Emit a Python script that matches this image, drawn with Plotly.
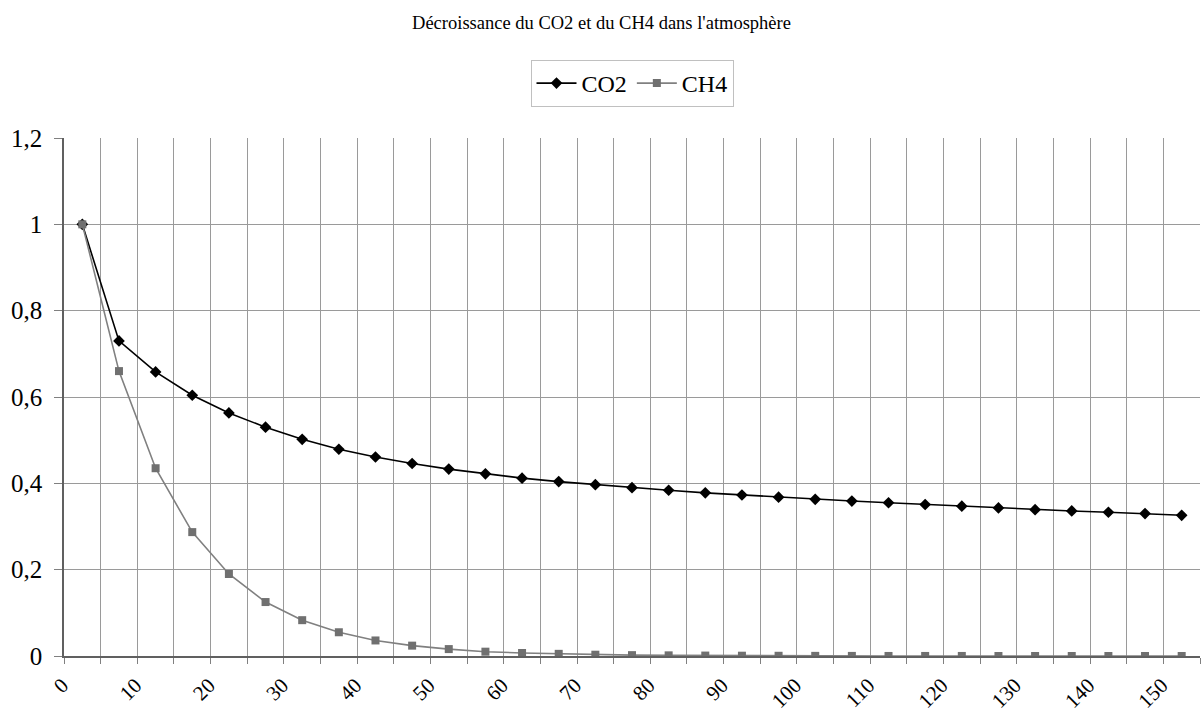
import plotly.graph_objects as go

years = list(range(0, 155, 5))
co2 = [1.0, 0.73, 0.658, 0.604, 0.563, 0.53, 0.502, 0.479, 0.461, 0.446, 0.433,
       0.422, 0.412, 0.404, 0.397, 0.39, 0.384, 0.378, 0.373, 0.368, 0.363,
       0.359, 0.355, 0.351, 0.347, 0.343, 0.339, 0.336, 0.333, 0.33, 0.326]
ch4 = [1.0, 0.66, 0.435, 0.287, 0.19, 0.125, 0.083, 0.055, 0.036, 0.024, 0.016,
       0.010, 0.007, 0.005, 0.003, 0.002, 0.0015, 0.001, 0.0007, 0.0005, 0.0003,
       0.0002, 0.0001, 0.0001, 0.0001, 0.0, 0.0, 0.0, 0.0, 0.0, 0.0]
x_labels = list(range(0, 160, 10))
y_ticks = [0, 0.2, 0.4, 0.6, 0.8, 1.0, 1.2]

font_family = "Liberation Serif, Times New Roman, serif"
grid_color = "#9a9a9a"

fig = go.Figure()
fig.add_trace(go.Scatter(
    x=years, y=co2, name="CO2", mode="lines+markers",
    line=dict(color="#000000", width=1.6),
    marker=dict(symbol="diamond", size=9, color="#000000"),
))
fig.add_trace(go.Scatter(
    x=years, y=ch4, name="CH4", mode="lines+markers",
    line=dict(color="#808080", width=1.6),
    marker=dict(symbol="square", size=8, color="#707070"),
))

boundaries = [v - 2.5 for v in years] + [years[-1] + 2.5]

fig.update_layout(
    width=1203, height=712,
    paper_bgcolor="white", plot_bgcolor="white",
    separators=", ",
    margin=dict(l=64, r=3, t=138, b=56, autoexpand=False),
    font=dict(family=font_family, size=20, color="#000000"),
    title=dict(text="Décroissance du CO2 et du CH4 dans l'atmosphère",
               x=0.5, xanchor="center", yref="container", y=0.969, yanchor="middle",
               font=dict(family=font_family, size=18.5, color="#000000")),
    legend=dict(orientation="h", x=0.5, xanchor="center",
                yref="container", y=1 - 60 / 712, yanchor="top",
                bordercolor="#c0c0c0", borderwidth=1, bgcolor="white",
                font=dict(family=font_family, size=24),
                itemwidth=40, tracegroupgap=0),
    showlegend=True,
)
fig.update_xaxes(
    range=[-2.5, 152.5], tickmode="array", tickvals=x_labels,
    ticktext=[str(v) for v in x_labels], tickangle=-45,
    showgrid=False, ticks="", zeroline=False, automargin=False,
    showline=True, linecolor="#606060", linewidth=1.5,
    ticklabelshift=-20, ticklabelstandoff=7,
    tickfont=dict(family=font_family, size=21),
    minor=dict(tickmode="array", tickvals=boundaries, showgrid=True,
               gridcolor=grid_color, gridwidth=1, ticks="outside",
               ticklen=6, tickcolor="#808080"),
)
fig.update_yaxes(
    range=[0, 1.2], tickmode="array", tickvals=y_ticks,
    showgrid=True, gridcolor=grid_color, gridwidth=1, automargin=False,
    zeroline=False, showline=True, linecolor="#606060", linewidth=1.5,
    ticks="outside", ticklen=8, tickcolor="#808080",
    ticklabelstandoff=7,
    tickfont=dict(family=font_family, size=25),
)

fig.write_html("out.html", config={"displayModeBar": False},
               post_script="document.body.style.margin='0';document.body.style.overflow='hidden';")
